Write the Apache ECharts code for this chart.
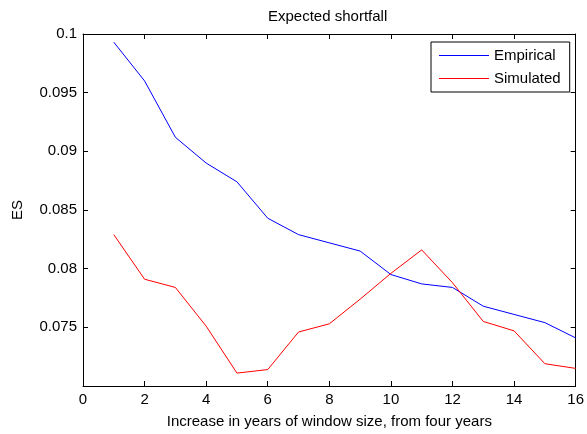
<!DOCTYPE html>
<html>
<head>
<meta charset="utf-8">
<script src="https://cdn.jsdelivr.net/npm/echarts@6/dist/echarts.min.js"></script>
<style>
  html, body { margin: 0; padding: 0; background: #fff; }
  #chart { width: 587px; height: 434px; }
</style>
</head>
<body>
<div id="chart"></div>
<script>
// Increase in window size (years beyond the initial four years)
const years = [1, 2, 3, 4, 5, 6, 7, 8, 9, 10, 11, 12, 13, 14, 15, 16];
// Expected shortfall estimates
const empirical = [0.0993, 0.0960, 0.0912, 0.0890, 0.0874, 0.0843, 0.0829, 0.0822, 0.0815, 0.0795, 0.0787, 0.0784, 0.0768, 0.0761, 0.0754, 0.0741];
const simulated = [0.0829, 0.0791, 0.0784, 0.0751, 0.0711, 0.0714, 0.0746, 0.0753, 0.0774, 0.0796, 0.0816, 0.0788, 0.0755, 0.0747, 0.0719, 0.0715];

const xTicks = { min: 0, max: 16, interval: 2 };
const yTicks = { min: 0.07, max: 0.1, interval: 0.005 };

const FONT = 'Liberation Sans, Arial, sans-serif';
const toPairs = (vals) => years.map((x, i) => [x, vals[i]]);

const axisLine = { show: true, onZero: false, lineStyle: { color: '#000', width: 1 } };
const tickIn = { show: true, inside: true, length: 5, lineStyle: { color: '#000', width: 1 } };

const chart = echarts.init(document.getElementById('chart'), null, { renderer: 'canvas' });
chart.setOption({
  animation: false,
  backgroundColor: '#fff',
  title: {
    text: 'Expected shortfall',
    left: 268,
    top: 9,
    padding: 0,
    textStyle: { fontFamily: FONT, fontSize: 15, fontWeight: 'normal', color: '#000' }
  },
  grid: { left: 83, top: 34, right: 8, bottom: 47, containLabel: false },
  legend: {
    orient: 'vertical',
    left: 431,
    top: 42,
    padding: [6, 9, 6, 8],
    icon: 'rect',
    itemWidth: 50,
    itemHeight: 1,
    itemGap: 8,
    borderColor: '#000',
    borderWidth: 1,
    backgroundColor: '#fff',
    textStyle: { fontFamily: FONT, fontSize: 15, color: '#000', lineHeight: 14 },
    data: ['Empirical', 'Simulated']
  },
  xAxis: [{
    type: 'value',
    min: xTicks.min, max: xTicks.max, interval: xTicks.interval,
    name: 'Increase in years of window size, from four years',
    nameLocation: 'middle',
    nameGap: 28,
    nameTextStyle: { fontFamily: FONT, fontSize: 15, color: '#000' },
    axisLine: axisLine,
    axisTick: tickIn,
    axisLabel: { margin: 6, fontFamily: FONT, fontSize: 15, color: '#000' },
    splitLine: { show: false }
  }, {
    type: 'value',
    position: 'top',
    min: xTicks.min, max: xTicks.max, interval: xTicks.interval,
    axisLine: axisLine,
    axisTick: tickIn,
    axisLabel: { show: false },
    splitLine: { show: false }
  }],
  yAxis: [{
    type: 'value',
    min: yTicks.min, max: yTicks.max, interval: yTicks.interval,
    name: 'ES',
    nameLocation: 'middle',
    nameGap: 58,
    nameTextStyle: { fontFamily: FONT, fontSize: 15, color: '#000' },
    axisLine: axisLine,
    axisTick: tickIn,
    axisLabel: {
      margin: 6, fontFamily: FONT, fontSize: 15, color: '#000',
      formatter: (v) => (Math.abs(v - yTicks.min) < 1e-9 ? '' : String(+v.toFixed(3)))
    },
    splitLine: { show: false }
  }, {
    type: 'value',
    position: 'right',
    min: yTicks.min, max: yTicks.max, interval: yTicks.interval,
    axisLine: axisLine,
    axisTick: tickIn,
    axisLabel: { show: false },
    splitLine: { show: false }
  }],
  series: [{
    name: 'Empirical',
    type: 'line',
    data: toPairs(empirical),
    showSymbol: false,
    symbol: 'none',
    lineStyle: { color: '#0000ff', width: 1 },
    itemStyle: { color: '#0000ff' }
  }, {
    name: 'Simulated',
    type: 'line',
    data: toPairs(simulated),
    showSymbol: false,
    symbol: 'none',
    lineStyle: { color: '#ff0000', width: 1 },
    itemStyle: { color: '#ff0000' }
  }]
});
</script>
</body>
</html>
